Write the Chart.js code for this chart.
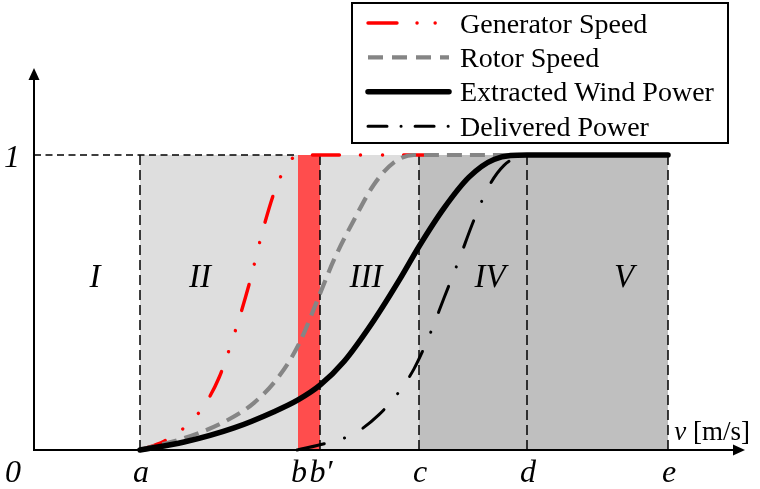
<!DOCTYPE html>
<html><head><meta charset="utf-8">
<script src="https://cdn.jsdelivr.net/npm/chart.js@4/dist/chart.umd.min.js"></script>
<style>html,body{margin:0;padding:0;background:#fff}#wrap{width:760px;height:489px;position:relative}</style>
</head><body><div id="wrap"><canvas id="c" width="760" height="489"></canvas></div>
<script>
// ---------- DATA ----------
const xTickValues = [0, 1.06, 2.64, 2.86, 3.85, 4.93, 6.34];
const xTickLabels = ['0', 'a', 'b', 'b\u2032', 'c', 'd', 'e'];
const yTickValues = [1];
const yTickLabels = ['1'];
const axisMaxX = 7.11;
const axisMaxY = 1.295;
const xAxisTitleVar = 'v';
const xAxisTitleUnit = '[m/s]';

const regionNames  = ['I', 'II', 'III', 'IV', 'V'];
const regionLabelX = [0.61, 1.66, 3.32, 4.56, 5.90];
const regionLabelY = 0.553;

const bandFrom = [1.06, 2.64, 2.86, 3.85, 4.93];
const bandTo   = [2.64, 2.86, 3.85, 4.93, 6.34];
const bandLevel = 1;

const vLineValues = [1.06, 2.86, 3.85, 4.93, 6.34];
const hLineFrom = 0, hLineTo = 2.64, hLineLevel = 1;

const seriesNames = ['Generator Speed', 'Rotor Speed', 'Extracted Wind Power', 'Delivered Power'];

const genX = [1.06, 1.30, 1.50, 1.70, 1.85, 2.00, 2.15, 2.30, 2.42, 2.53, 2.64, 3.86, 4.60];
const genY = [0, 0.030, 0.075, 0.150, 0.245, 0.390, 0.560, 0.760, 0.890, 0.965, 1, 1, 1];

const rotX = [1.06, 1.50, 1.90, 2.20, 2.45, 2.65, 2.86, 3.00, 3.20, 3.40, 3.60, 3.80, 4.93];
const rotY = [0, 0.040, 0.095, 0.160, 0.250, 0.360, 0.530, 0.645, 0.780, 0.900, 0.975, 1, 1];

const extX = [1.06, 1.50, 2.00, 2.40, 2.64, 2.86, 3.10, 3.40, 3.66, 3.85, 4.10, 4.35, 4.60, 4.93, 6.34];
const extY = [0, 0.027, 0.075, 0.130, 0.170, 0.220, 0.300, 0.440, 0.580, 0.690, 0.820, 0.925, 0.985, 1, 1];

const delX = [2.63, 2.93, 3.20, 3.45, 3.65, 3.80, 3.95, 4.10, 4.25, 4.40, 4.55, 4.70, 4.85, 4.93, 6.34];
const delY = [0, 0.024, 0.055, 0.120, 0.197, 0.275, 0.385, 0.515, 0.645, 0.780, 0.895, 0.965, 0.995, 1, 1];

// ---------- STYLE ----------
const SERIF = '"Liberation Serif", "Times New Roman", serif';
const bandColors = ['#dedede', '#ff4d4d', '#dedede', '#bfbfbf', '#bfbfbf'];
const seriesStyle = [
  {color:'#ff0000', width:3.4, dash:[27,21,0.1,22,0.1,21], cap:'round', legendDash:[29,20,0.1,18,0.1,30]},
  {color:'#858585', width:4.2, dash:[15,8], cap:'butt', legendDash:[15,9]},
  {color:'#000000', width:5.5, dash:[], cap:'round', legendDash:[]},
  {color:'#000000', width:3,   dash:[28,21,0.1,21], cap:'round', legendDash:[19,14,0.1,14]}
];

const pts = (xs, ys) => xs.map((v, i) => ({x: v, y: ys[i]}));
const datasets = [];

// curves (lower order = drawn on top)
const curveData = [pts(genX, genY), pts(rotX, rotY), pts(extX, extY), pts(delX, delY)];
const curveOrder = [3, 2, 0, 1];
curveData.forEach((d, i) => {
  const s = seriesStyle[i];
  datasets.push({
    label: seriesNames[i], data: d, order: curveOrder[i],
    borderColor: s.color, borderWidth: s.width, borderDash: s.dash, borderCapStyle: s.cap,
    borderJoinStyle: 'round', pointRadius: 0, fill: false,
    cubicInterpolationMode: 'monotone', tension: 0.4, clip: false
  });
});

// dashed guide lines
const vData = [];
vLineValues.forEach(v => { vData.push({x: v, y: 0}, {x: v, y: bandLevel}, {x: v, y: null}); });
datasets.push({label: '_v', data: vData, order: 20, borderColor: '#000', borderWidth: 1.5,
  borderDash: [10, 5], pointRadius: 0, fill: false, spanGaps: false, tension: 0, clip: false});
datasets.push({label: '_h', data: [{x: hLineFrom, y: hLineLevel}, {x: hLineTo, y: hLineLevel}], order: 20,
  borderColor: '#000', borderWidth: 1.5, borderDash: [7, 4.5], pointRadius: 0, fill: false, tension: 0, clip: false});

// shaded operating regions
bandFrom.forEach((f, i) => {
  datasets.push({label: '_band' + i, data: [{x: f, y: bandLevel}, {x: bandTo[i], y: bandLevel}],
    order: 30, borderWidth: 0, borderColor: 'rgba(0,0,0,0)', backgroundColor: bandColors[i],
    fill: 'origin', pointRadius: 0, tension: 0});
});

const overlay = {
  id: 'overlay',
  afterDatasetsDraw(chart) {
    const {ctx, chartArea: ca, scales: {x, y}} = chart;
    const x0 = x.getPixelForValue(0), y0 = y.getPixelForValue(0);
    ctx.save();
    // axes with arrows
    ctx.strokeStyle = '#000'; ctx.fillStyle = '#000'; ctx.lineWidth = 2; ctx.setLineDash([]);
    ctx.beginPath(); ctx.moveTo(x0, y0); ctx.lineTo(ca.right - 8, y0); ctx.stroke();
    ctx.beginPath(); ctx.moveTo(ca.right, y0); ctx.lineTo(ca.right - 12, y0 - 5.5); ctx.lineTo(ca.right - 12, y0 + 5.5); ctx.closePath(); ctx.fill();
    ctx.beginPath(); ctx.moveTo(x0, y0 + 1); ctx.lineTo(x0, ca.top + 8); ctx.stroke();
    ctx.beginPath(); ctx.moveTo(x0, ca.top); ctx.lineTo(x0 - 5.5, ca.top + 12); ctx.lineTo(x0 + 5.5, ca.top + 12); ctx.closePath(); ctx.fill();

    // x tick labels
    ctx.font = 'italic 32px ' + SERIF; ctx.textBaseline = 'alphabetic'; ctx.textAlign = 'center';
    xTickValues.forEach((v, i) => {
      const px = x.getPixelForValue(v);
      ctx.fillText(xTickLabels[i], v === 0 ? px - 21 : px + 1, y0 + 32);
    });
    // y tick labels
    yTickValues.forEach((v, i) => {
      ctx.fillText(yTickLabels[i], x0 - 22, y.getPixelForValue(v) + 12);
    });
    // region labels
    ctx.font = 'italic 33px ' + SERIF;
    regionNames.forEach((n, i) => ctx.fillText(n, x.getPixelForValue(regionLabelX[i]), y.getPixelForValue(regionLabelY)));

    // axis title
    ctx.font = '27px ' + SERIF; ctx.textAlign = 'right';
    const unitRight = ca.right + 5, base = y0 - 10;
    ctx.fillText(xAxisTitleUnit, unitRight, base);
    const uw = ctx.measureText(' ' + xAxisTitleUnit).width;
    ctx.font = 'italic 27px ' + SERIF;
    ctx.fillText(xAxisTitleVar, unitRight - uw, base);

    // legend
    const lx = 352, ly = 3, lw = 376, lh = 140;
    ctx.fillStyle = '#fff'; ctx.fillRect(lx, ly, lw, lh);
    ctx.strokeStyle = '#000'; ctx.lineWidth = 2; ctx.strokeRect(lx, ly, lw, lh);
    ctx.font = '28px ' + SERIF; ctx.textAlign = 'left'; ctx.textBaseline = 'alphabetic';
    seriesNames.forEach((n, i) => {
      const s = seriesStyle[i];
      const sy = ly + 20 + i * 34.4;
      ctx.beginPath(); ctx.strokeStyle = s.color; ctx.lineWidth = s.width; ctx.lineCap = s.cap;
      ctx.setLineDash(s.legendDash);
      ctx.moveTo(lx + 16, sy); ctx.lineTo(lx + 97, sy); ctx.stroke();
      ctx.setLineDash([]);
      ctx.fillStyle = '#000';
      ctx.fillText(n, lx + 108, ly + 30 + i * 34.2);
    });
    ctx.restore();
  }
};

new Chart(document.getElementById('c'), {
  type: 'line',
  data: {datasets},
  options: {
    responsive: false, animation: false, devicePixelRatio: 1,
    layout: {padding: {left: 34, right: 15, top: 68, bottom: 39}},
    scales: {
      x: {type: 'linear', min: 0, max: axisMaxX, display: false},
      y: {type: 'linear', min: 0, max: axisMaxY, display: false}
    },
    plugins: {legend: {display: false}, tooltip: {enabled: false}}
  },
  plugins: [overlay]
});
</script></body></html>
